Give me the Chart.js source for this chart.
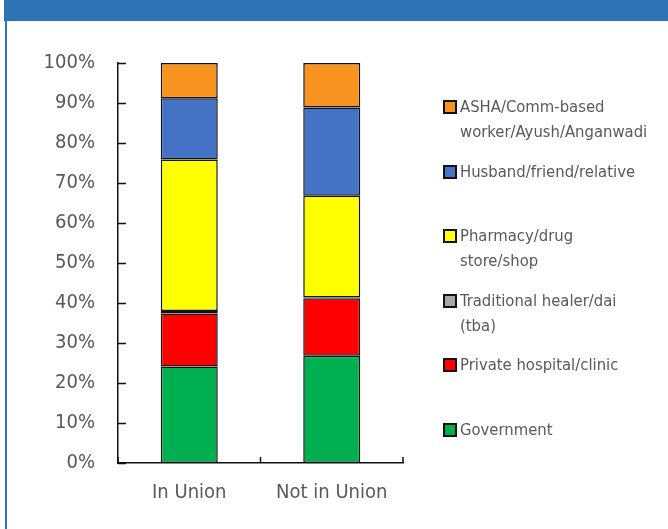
<!DOCTYPE html>
<html>
<head>
<meta charset="utf-8">
<script src="https://cdn.jsdelivr.net/npm/chart.js@4/dist/chart.umd.min.js"></script>
<style>
  body { margin: 0; background: #fff; width: 668px; height: 529px; overflow: hidden; position: relative; }
  #header { position: absolute; left: 4px; top: 0; width: 664px; height: 21px; background: #2E74B5; }
  #leftline { position: absolute; left: 5px; top: 0; width: 2px; height: 529px; background: #2E74B5; }
  #wrap { position: absolute; left: 0; top: 0; width: 668px; height: 529px; }
  #legend { position: absolute; left: 443px; top: 94px; font-family: "Liberation Sans Narrow", "DejaVu Sans Condensed", sans-serif; font-size: 16.5px; color: #595959; }
  .item { height: 64.6px; position: relative; padding-left: 17px; line-height: 25px; }
  .sw { position: absolute; left: 0; top: 6px; width: 10px; height: 10px; border: 2px solid #111; }
</style>
</head>
<body>
<div id="header"></div>
<div id="leftline"></div>
<div id="wrap"><canvas id="myChart" width="668" height="529"></canvas></div>
<div id="legend"></div>
<script>
// categories and series (percent of users by source)
var categories = ['In Union', 'Not in Union'];
var government = [24.1, 26.8];
var privateHosp = [13.3, 14.4];
var traditional = [0.6, 0.2];
var pharmacy = [37.9, 25.4];
var husband = [15.3, 22.1];
var asha = [8.8, 11.1];
var yTicks = [0, 10, 20, 30, 40, 50, 60, 70, 80, 90, 100];

var series = [
    { label: 'Government', lines: ['Government'], data: government, color: '#00B050' },
    { label: 'Private hospital/clinic', lines: ['Private hospital/clinic'], data: privateHosp, color: '#FF0000' },
    { label: 'Traditional healer/dai (tba)', lines: ['Traditional healer/dai', '(tba)'], data: traditional, color: '#A5A5A5' },
    { label: 'Pharmacy/drug store/shop', lines: ['Pharmacy/drug', 'store/shop'], data: pharmacy, color: '#FFFF00' },
    { label: 'Husband/friend/relative', lines: ['Husband/friend/relative'], data: husband, color: '#4472C4' },
    { label: 'ASHA/Comm-based worker/Ayush/Anganwadi', lines: ['ASHA/Comm-based', 'worker/Ayush/Anganwadi'], data: asha, color: '#F8931F' }
];

var fontFamily = '"Liberation Sans Narrow", "DejaVu Sans Condensed", sans-serif';

// inward tick marks like the original
var innerTicks = {
    id: 'innerTicks',
    afterDraw: function(chart) {
        var c = chart.ctx, x = chart.scales.x, y = chart.scales.y;
        c.save();
        c.strokeStyle = '#111';
        c.lineWidth = 1.5;
        c.beginPath();
        yTicks.forEach(function(v) {
            var py = Math.round(y.getPixelForValue(v)) + 0.5;
            c.moveTo(x.left, py);
            c.lineTo(x.left + 8, py);
        });
        for (var i = 0; i <= categories.length; i++) {
            var px = x.left + (x.right - x.left) * i / categories.length;
            c.moveTo(px, y.bottom);
            c.lineTo(px, y.bottom - 6);
        }
        c.stroke();
        c.restore();
    }
};

var ctx = document.getElementById('myChart').getContext('2d');
var myChart = new Chart(ctx, {
    type: 'bar',
    data: {
        labels: categories,
        datasets: series.map(function(s) {
            return {
                label: s.label,
                data: s.data,
                backgroundColor: s.color,
                borderColor: '#111',
                borderWidth: 1.5,
                borderSkipped: false,
                barPercentage: 0.4,
                categoryPercentage: 1
            };
        })
    },
    options: {
        responsive: false,
        animation: false,
        layout: { padding: { left: 0, right: 265, top: 63, bottom: 0 } },
        plugins: { legend: { display: false }, tooltip: { enabled: false } },
        scales: {
            x: {
                stacked: true,
                grid: { display: false, drawTicks: false },
                border: { display: true, color: '#111', width: 1.5 },
                ticks: { color: '#595959', padding: 18, font: { family: fontFamily, size: 20 } },
                afterFit: function(scale) { scale.height = 66; }
            },
            y: {
                stacked: true,
                min: 0,
                max: 100,
                grid: { display: false, drawTicks: false },
                border: { display: true, color: '#111', width: 1.5 },
                ticks: {
                    stepSize: 10,
                    padding: 23,
                    color: '#595959',
                    font: { family: fontFamily, size: 20 },
                    callback: function(v) { return v + '%'; }
                },
                afterFit: function(scale) { scale.width = 118; }
            }
        }
    },
    plugins: [innerTicks]
});

// legend, top item = last dataset
var legend = document.getElementById('legend');
series.slice().reverse().forEach(function(s) {
    var item = document.createElement('div');
    item.className = 'item';
    item.innerHTML = '<span class="sw" style="background:' + s.color + '"></span>' + s.lines.join('<br>');
    legend.appendChild(item);
});
</script>
</body>
</html>
